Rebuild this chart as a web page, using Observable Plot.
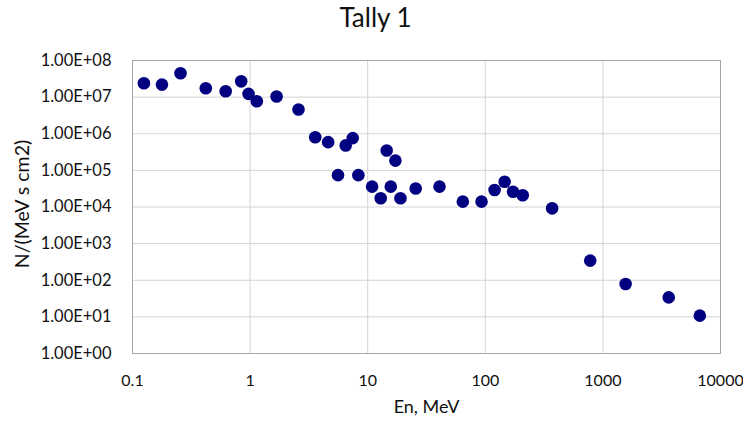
<!DOCTYPE html>
<html>
<head>
<meta charset="utf-8">
<script src="https://cdn.jsdelivr.net/npm/d3@7"></script>
<script src="https://cdn.jsdelivr.net/npm/@observablehq/plot@0.6"></script>
<style>
  html, body { margin: 0; padding: 0; background: #ffffff; }
  #title { width: 743px; height: 34px; line-height: 34px; text-align: center;
           font-family: Lato, "Open Sans", sans-serif; font-size: 26px; color: #111111; padding-left: 8px; box-sizing: border-box; }
  svg { display: block; }
</style>
</head>
<body>
<div id="title">Tally 1</div>
<div id="chart"></div>
<script>
const titleText = "Tally 1";
const xLabel = "En, MeV";
const yLabel = "N/(MeV s cm2)";
const energy = [0.125, 0.178, 0.256, 0.42, 0.62, 0.84, 0.97, 1.14, 1.68, 2.58,
  3.58, 4.61, 6.5, 7.46, 5.59, 8.33, 14.5, 17.2, 10.9, 12.9,
  15.7, 19.0, 25.6, 40.8, 64.4, 92.9, 120, 146, 172, 208,
  370, 780, 1560, 3630, 6670];
const flux = [2.4e7, 2.2e7, 4.5e7, 1.75e7, 1.45e7, 2.7e7, 1.23e7, 7.7e6, 1.04e7, 4.6e6,
  8.0e5, 5.9e5, 4.8e5, 7.6e5, 7.4e4, 7.4e4, 3.5e5, 1.85e5, 3.6e4, 1.73e4,
  3.6e4, 1.73e4, 3.2e4, 3.6e4, 1.4e4, 1.4e4, 2.9e4, 4.9e4, 2.6e4, 2.1e4,
  9.2e3, 344, 79, 34, 10.8];
const xTicks = [0.1, 1, 10, 100, 1000, 10000];
const xTickLabels = ["0.1", "1", "10", "100", "1000", "10000"];
const yTicks = [1, 10, 100, 1e3, 1e4, 1e5, 1e6, 1e7, 1e8];
const yTickLabels = ["1.00E+00", "1.00E+01", "1.00E+02", "1.00E+03", "1.00E+04",
  "1.00E+05", "1.00E+06", "1.00E+07", "1.00E+08"];

document.getElementById("title").textContent = titleText;
const data = energy.map((e, i) => ({e, f: flux[i]}));
const font = "Lato, 'Open Sans', sans-serif";

const chart = Plot.plot({
  width: 743,
  height: 393,
  marginTop: 26,
  marginLeft: 132,
  marginRight: 23,
  marginBottom: 74,
  style: {fontFamily: font, color: "#111111", background: "#ffffff"},
  x: {type: "log", domain: [0.1, 10000]},
  y: {type: "log", domain: [1, 1e8]},
  marks: [
    Plot.gridX(xTicks, {stroke: "#d4d4d4", strokeOpacity: 1}),
    Plot.gridY(yTicks, {stroke: "#d4d4d4", strokeOpacity: 1}),
    Plot.frame({stroke: "#a6a6a6"}),
    Plot.axisX(xTicks, {tickSize: 0, tickPadding: 21, fontSize: 16, label: null, fill: "#111111",
      tickFormat: d => xTickLabels[xTicks.indexOf(d)]}),
    Plot.axisY(yTicks, {tickSize: 0, tickPadding: 21, fontSize: 16.5, label: null, fill: "#111111",
      tickFormat: d => yTickLabels[yTicks.indexOf(d)]}),
    Plot.text([xLabel], {text: d => d, frameAnchor: "bottom", lineAnchor: "middle", textAnchor: "middle",
      dy: 54, fontSize: 18, fill: "#111111"}),
    Plot.text([yLabel], {text: d => d, frameAnchor: "left", textAnchor: "middle", lineAnchor: "middle",
      dx: -110, dy: -3, rotate: -90, fontSize: 19.5, fill: "#111111"}),
    Plot.dot(data, {x: "e", y: "f", r: 6.3, fill: "#000080", stroke: "none"})
  ]
});
document.getElementById("chart").appendChild(chart);
</script>
</body>
</html>
